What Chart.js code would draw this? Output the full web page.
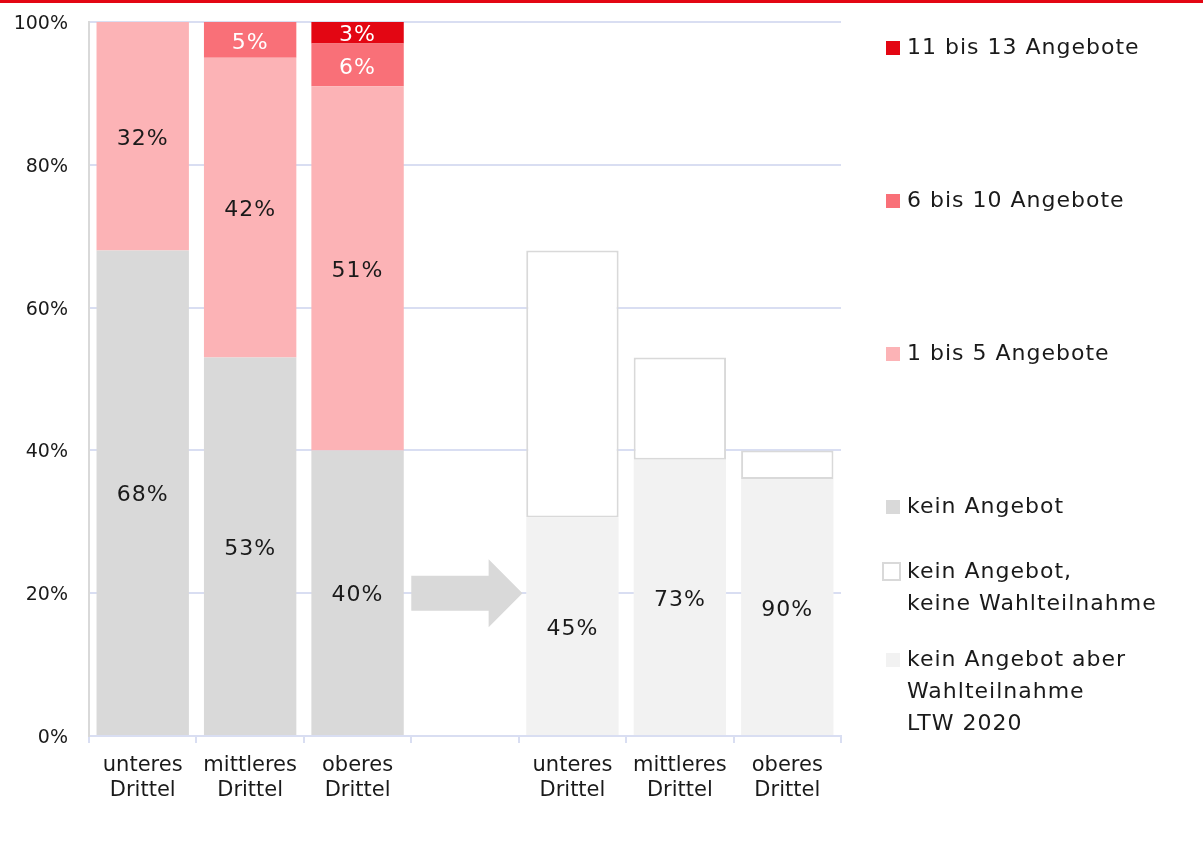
<!DOCTYPE html>
<html>
<head>
<meta charset="utf-8">
<script src="https://cdn.jsdelivr.net/npm/chart.js@4/dist/chart.umd.min.js"></script>
<style>
  html, body { margin: 0; padding: 0; background: #fff; }
  .wrap { position: relative; width: 1203px; height: 842px; }
  .topline { position: absolute; left: 0; top: 0; width: 1203px; height: 3px; background: #e30613; }
  canvas { position: absolute; left: 0; top: 0; }
  .legend { position: absolute; left: 0; top: 0; font-family: 'DejaVu Sans', sans-serif; font-size: 22px; letter-spacing: 1px; color: #1a1a1a; }
  .item { position: absolute; left: 886px; white-space: nowrap; line-height: 32px; }
  .item .sw { position: absolute; left: 0; top: 10px; width: 14px; height: 14px; }
  .item .tx { position: absolute; left: 21px; top: 0; }
  .item .sw.box { left: -4px; top: 7px; width: 15px; height: 15px; border: 2px solid #d9d9d9; background: #fff; }
</style>
</head>
<body>
<div class="wrap">
  <canvas id="chart" width="1203" height="842"></canvas>
  <div class="topline"></div>
  <div class="legend" id="legend"></div>
</div>
<script>
// categories (left group: share with/without offers, right group: kein Angebot split by election turnout)
const categories = [
  ['unteres', 'Drittel'], ['mittleres', 'Drittel'], ['oberes', 'Drittel'],
  '',
  ['unteres', 'Drittel'], ['mittleres', 'Drittel'], ['oberes', 'Drittel'],
];

const keinAngebot     = [68, 53, 40];
const angebote1bis5   = [32, 42, 51];
const angebote6bis10  = [0, 5, 6];
const angebote11bis13 = [0, 0, 3];

// right group, stacked to the height of "kein Angebot"
const mitWahl       = [30.6, 38.7, 36];
const ohneWahl      = [37.4, 14.3, 4];
const mitWahlLabels = ['45%', '73%', '90%'];

const yTicks = [0, 20, 40, 60, 80, 100];

const RED    = '#e30613';
const SALMON = '#f97078';
const PINK   = '#fcb3b6';
const GREY   = '#d9d9d9';
const LIGHT  = '#f2f2f2';
const TEXT   = '#1a1a1a';
const GRID   = '#d9def2';
const FONT   = 'DejaVu Sans';

const left  = arr => [...arr, null, null, null, null];
const right = arr => [null, null, null, null, ...arr];

const legendItems = [
  { text: ['11 bis 13 Angebote'], color: RED, top: 31 },
  { text: ['6 bis 10 Angebote'], color: SALMON, top: 184 },
  { text: ['1 bis 5 Angebote'], color: PINK, top: 337 },
  { text: ['kein Angebot'], color: GREY, top: 490 },
  { text: ['kein Angebot,', 'keine Wahlteilnahme'], box: true, top: 555 },
  { text: ['kein Angebot aber', 'Wahlteilnahme', 'LTW 2020'], color: LIGHT, top: 643 },
];

const legendEl = document.getElementById('legend');
legendItems.forEach(it => {
  const d = document.createElement('div');
  d.className = 'item';
  d.style.top = it.top + 'px';
  const sw = document.createElement('span');
  sw.className = 'sw' + (it.box ? ' box' : '');
  if (!it.box) sw.style.background = it.color;
  const tx = document.createElement('span');
  tx.className = 'tx';
  tx.innerHTML = it.text.join('<br>');
  d.appendChild(sw);
  d.appendChild(tx);
  legendEl.appendChild(d);
});

// segment labels in the middle of each bar piece
const valueLabels = {
  id: 'valueLabels',
  afterDatasetsDraw(chart) {
    const ctx = chart.ctx;
    ctx.save();
    ctx.font = `22px ${FONT}`;
    ctx.textAlign = 'center';
    ctx.textBaseline = 'middle';
    if ('letterSpacing' in ctx) ctx.letterSpacing = '1px';
    chart.data.datasets.forEach((ds, di) => {
      if (!ds.labels) return;
      chart.getDatasetMeta(di).data.forEach((bar, i) => {
        const txt = ds.labels[i];
        if (!txt) return;
        ctx.fillStyle = ds.labelColor;
        ctx.fillText(txt, bar.x, (bar.y + bar.base) / 2 + 3);
      });
    });
    ctx.restore();
  }
};

// grey arrow in the empty gap category
const gapArrow = {
  id: 'gapArrow',
  afterDatasetsDraw(chart) {
    const { ctx, scales: { x, y } } = chart;
    const w = x.getPixelForValue(1) - x.getPixelForValue(0);
    const x0 = x.getPixelForValue(3) - w / 2;
    const tip = x0 + w * 1.035;
    const neck = x0 + w * 0.72;
    const cy = y.getPixelForValue(20);
    ctx.save();
    ctx.fillStyle = GREY;
    ctx.beginPath();
    ctx.moveTo(x0, cy - 17.5);
    ctx.lineTo(neck, cy - 17.5);
    ctx.lineTo(neck, cy - 34);
    ctx.lineTo(tip, cy);
    ctx.lineTo(neck, cy + 34);
    ctx.lineTo(neck, cy + 17.5);
    ctx.lineTo(x0, cy + 17.5);
    ctx.closePath();
    ctx.fill();
    ctx.restore();
  }
};

const pct = arr => arr.map(v => (v ? v + '%' : ''));

const ctx = document.getElementById('chart').getContext('2d');
new Chart(ctx, {
  type: 'bar',
  data: {
    labels: categories,
    datasets: [
      { label: 'kein Angebot', data: left(keinAngebot), backgroundColor: GREY,
        labels: left(pct(keinAngebot)), labelColor: TEXT },
      { label: '1 bis 5 Angebote', data: left(angebote1bis5), backgroundColor: PINK,
        labels: left(pct(angebote1bis5)), labelColor: TEXT },
      { label: '6 bis 10 Angebote', data: left(angebote6bis10), backgroundColor: SALMON,
        labels: left(pct(angebote6bis10)), labelColor: '#fff' },
      { label: '11 bis 13 Angebote', data: left(angebote11bis13), backgroundColor: RED,
        labels: left(pct(angebote11bis13)), labelColor: '#fff' },
      { label: 'kein Angebot aber Wahlteilnahme LTW 2020', data: right(mitWahl), backgroundColor: LIGHT,
        labels: right(mitWahlLabels), labelColor: TEXT },
      { label: 'kein Angebot, keine Wahlteilnahme', data: right(ohneWahl), backgroundColor: '#fff',
        borderColor: GREY, borderWidth: 2, borderSkipped: false },
    ],
  },
  options: {
    responsive: false,
    animation: false,
    layout: { padding: { top: 22, right: 362, left: 0, bottom: 0 } },
    datasets: { bar: { categoryPercentage: 1, barPercentage: 0.86 } },
    plugins: { legend: { display: false }, tooltip: { enabled: false } },
    scales: {
      x: {
        stacked: true,
        afterFit: s => { s.height = 106; },
        grid: { offset: true, drawOnChartArea: false, drawTicks: true, tickLength: 7, color: GRID, lineWidth: 2 },
        border: { color: GRID, width: 2 },
        ticks: { color: TEXT, font: { family: FONT, size: 21, lineHeight: 1.2 }, padding: 10, maxRotation: 0, autoSkip: false },
      },
      y: {
        stacked: true,
        min: 0, max: 100,
        afterFit: s => { s.width = 89; },
        afterBuildTicks: s => { s.ticks = yTicks.map(v => ({ value: v })); },
        // invisible tick marks keep the labels away from the axis without extra top padding
        grid: { color: GRID, lineWidth: 2, drawTicks: true, tickLength: 21, tickColor: 'rgba(0,0,0,0)' },
        border: { color: GREY, width: 2 },
        ticks: { color: TEXT, font: { family: FONT, size: 19 }, padding: 0, labelOffset: 2, callback: v => v + '%' },
      },
    },
  },
  plugins: [valueLabels, gapArrow],
});
</script>
</body>
</html>
